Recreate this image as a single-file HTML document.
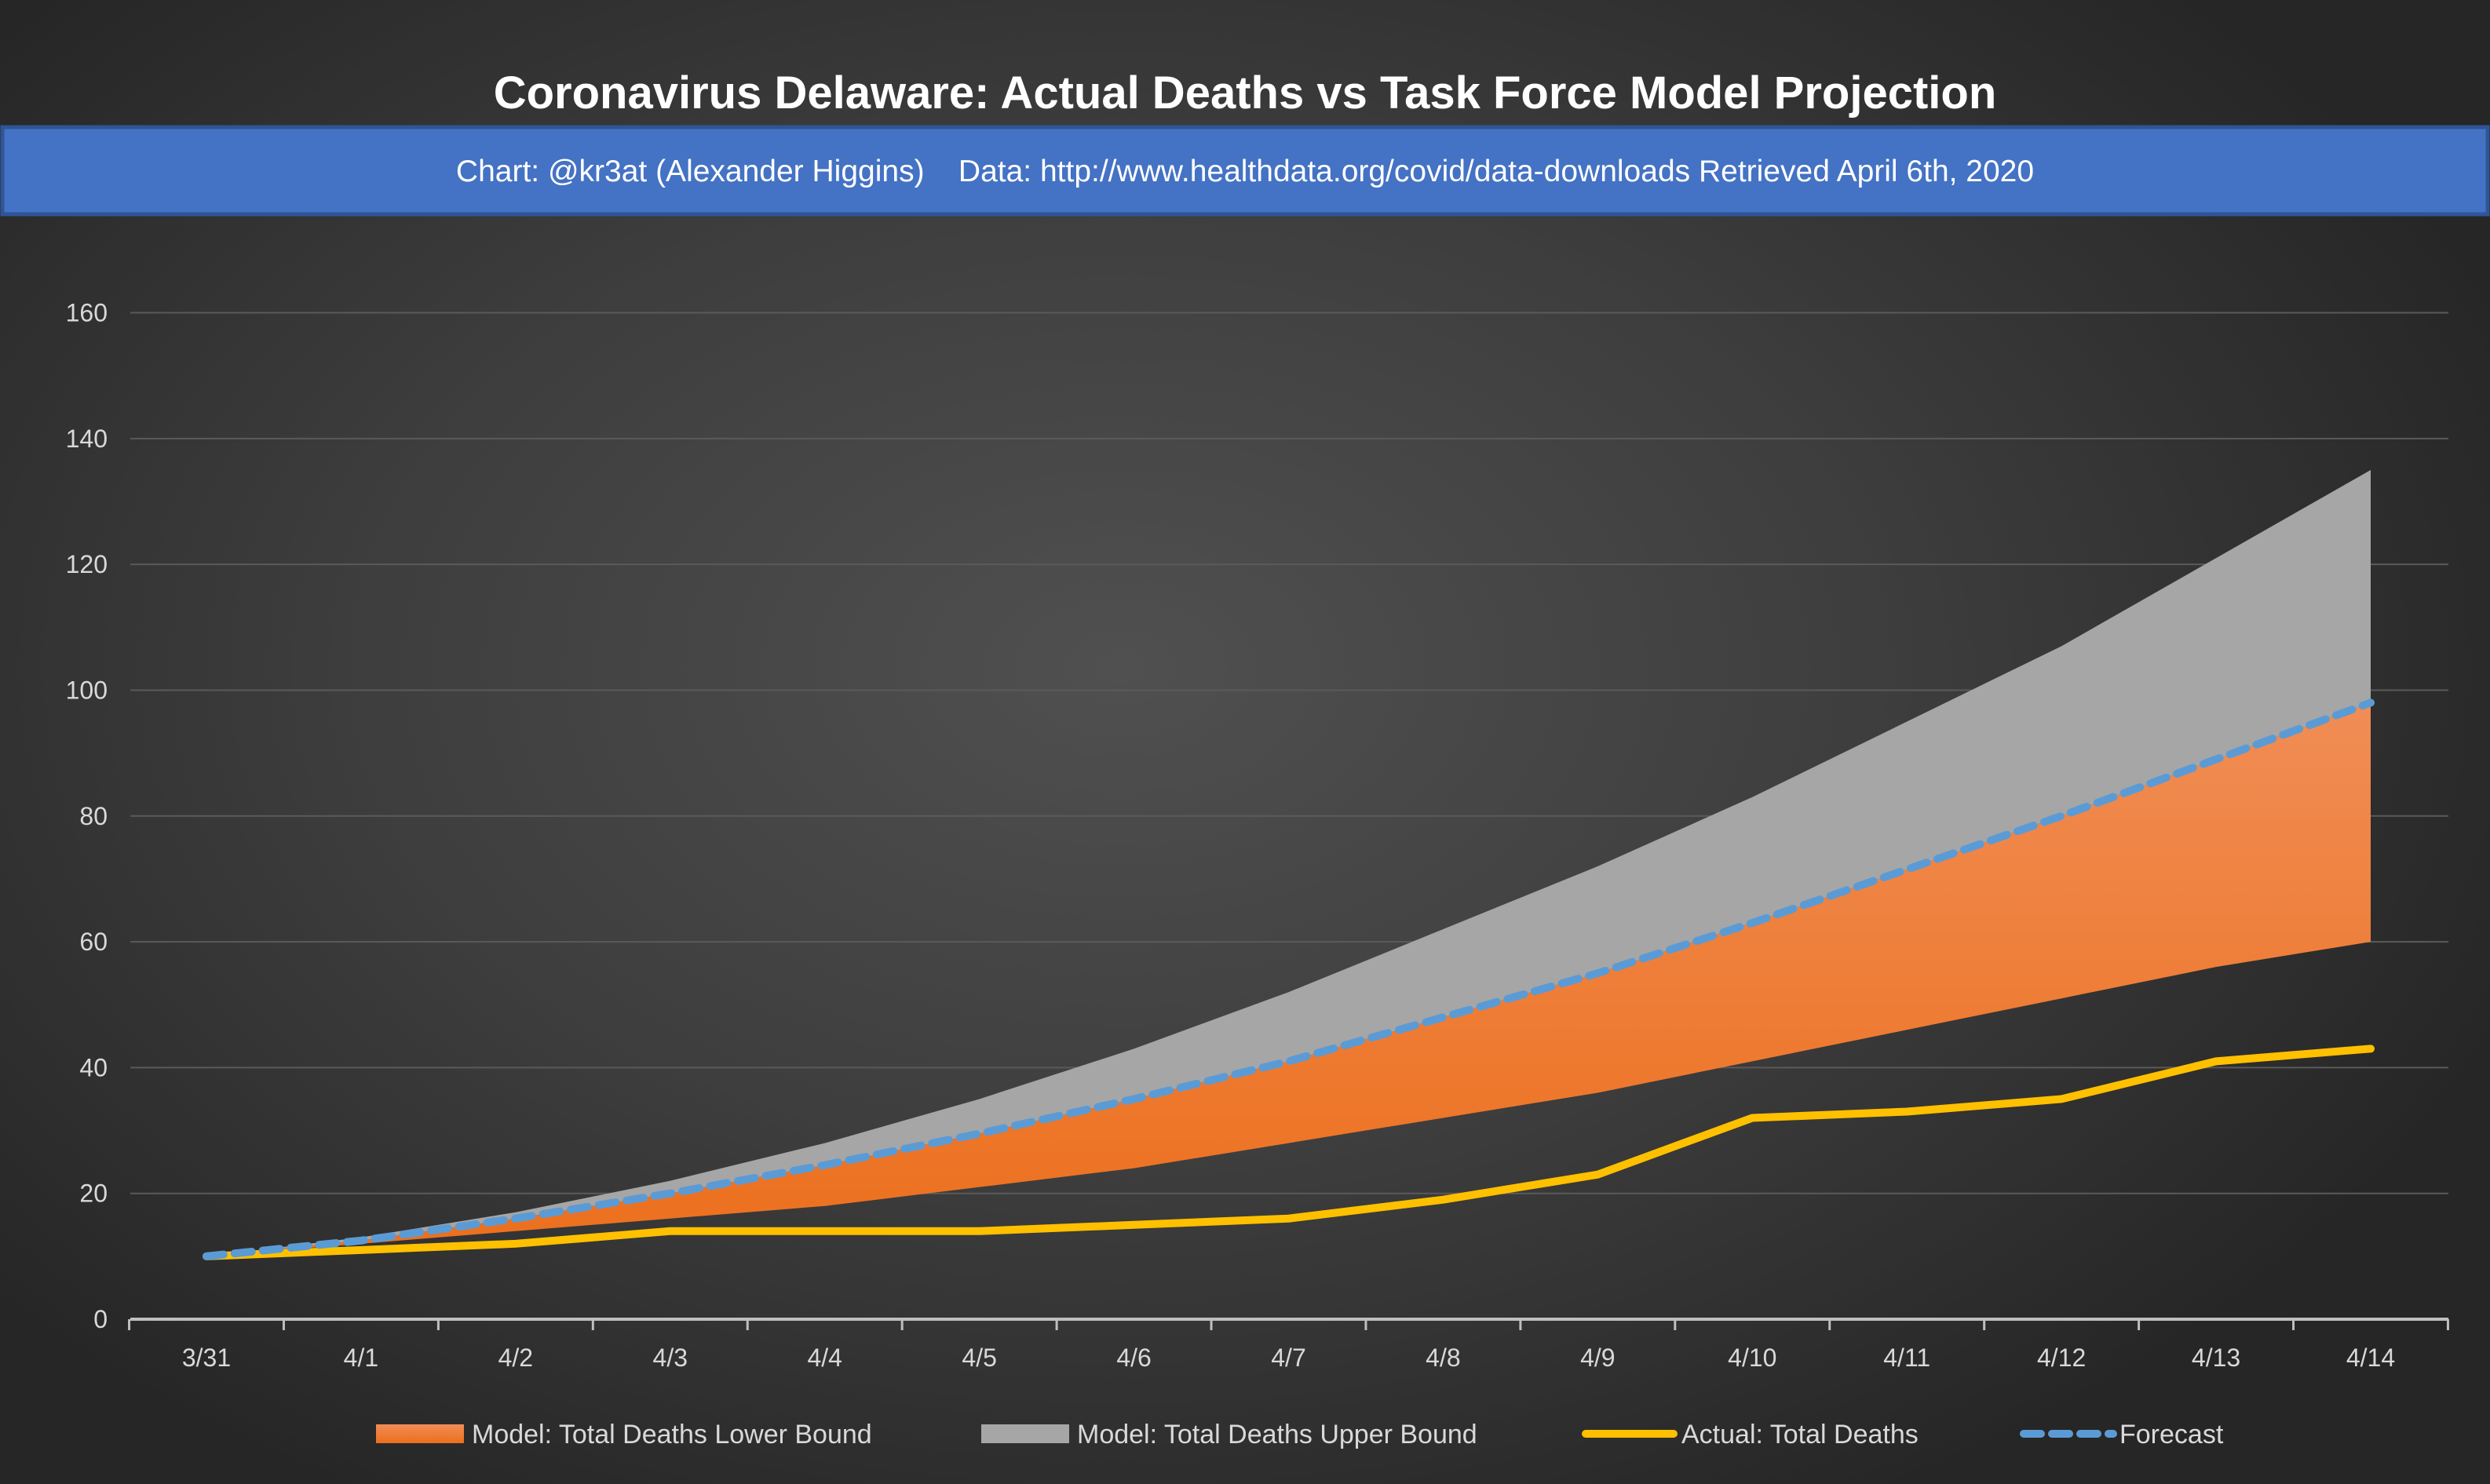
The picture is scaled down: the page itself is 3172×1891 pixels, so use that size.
<!DOCTYPE html>
<html><head><meta charset="utf-8"><style>
html,body{margin:0;padding:0;}
body{width:3172px;height:1891px;overflow:hidden;background:radial-gradient(ellipse 60% 65% at 45% 45%,#505050 0%,#3e3e3e 50%,#262626 100%);font-family:"Liberation Sans",sans-serif;}
svg{position:absolute;left:0;top:0;}
</style></head><body>
<svg width="3172" height="1891">
<text x="1586" y="138" text-anchor="middle" fill="#fff" font-size="58" font-weight="bold">Coronavirus Delaware: Actual Deaths vs Task Force Model Projection</text>
<rect x="3" y="162" width="3166" height="111" fill="#4472c4" stroke="#2f5597" stroke-width="5"/>
<text x="1586" y="231" text-anchor="middle" fill="#fff" font-size="39">Chart: @kr3at (Alexander Higgins)&#160;&#160;&#160;&#160;Data: http://www.healthdata.org/covid/data-downloads Retrieved April 6th, 2020</text>
<defs><linearGradient id="og" x1="0" y1="0" x2="0" y2="1"><stop offset="0" stop-color="#f08d55"/><stop offset="1" stop-color="#ec6f1c"/></linearGradient></defs>
<g id="grid"></g><g id="areas"></g><g id="lines"></g><g id="axes"></g>
<g>
<rect x="479" y="1815" width="112" height="24" fill="url(#og)"/>
<text x="601" y="1839" fill="#d9d9d9" font-size="34">Model: Total Deaths Lower Bound</text>
<rect x="1250" y="1815" width="112" height="24" fill="#a6a6a6"/>
<text x="1372" y="1839" fill="#d9d9d9" font-size="34">Model: Total Deaths Upper Bound</text>
<line x1="2020" y1="1827" x2="2132" y2="1827" stroke="#ffc000" stroke-width="10" stroke-linecap="round"/>
<text x="2142" y="1839" fill="#d9d9d9" font-size="34">Actual: Total Deaths</text>
<line x1="2578" y1="1827" x2="2692" y2="1827" stroke="#5b9bd5" stroke-width="10" stroke-dasharray="22,14" stroke-linecap="round"/>
<text x="2700" y="1839" fill="#d9d9d9" font-size="34">Forecast</text>
</g>
</svg>
<script>
const categories=["3/31","4/1","4/2","4/3","4/4","4/5","4/6","4/7","4/8","4/9","4/10","4/11","4/12","4/13","4/14"];
const lowerBound=[10,12,14,16,18,21,24,28,32,36,41,46,51,56,60];
const upperBound=[10,13,17,22,28,35,43,52,62,72,83,95,107,121,135];
const forecast=[10,12.5,16,20,24.5,29.5,35,41,48,55,63,71.5,80,89,98];
const actual=[10,11,12,14,14,14,15,16,19,23,32,33,35,41,43];
const yTicks=[0,20,40,60,80,100,120,140,160];
const NS="http://www.w3.org/2000/svg";
const X0=263,X1=3020,Y0=1681,Y160=398.5;
const step=(X1-X0)/(categories.length-1);
const xs=i=>X0+i*step;
const ys=v=>Y0+(Y160-Y0)*v/160;
function mk(t,a,p){const e=document.createElementNS(NS,t);for(const k in a)e.setAttribute(k,a[k]);p.appendChild(e);return e;}
const grid=document.getElementById('grid'),areas=document.getElementById('areas'),lines=document.getElementById('lines'),axes=document.getElementById('axes');
yTicks.forEach(v=>{
 if(v>0){const g=mk('line',{x1:166,x2:3119,y1:ys(v),y2:ys(v),stroke:'#5a5a5a','stroke-width':2},grid);
 
 }
 const t=mk('text',{x:137,y:ys(v)+11,'text-anchor':'end',fill:'#d9d9d9','font-size':32},axes);t.textContent=v;
 
 
});
function band(lo,hi,fill,name){
 let d='M'+lo.map((v,i)=>xs(i)+','+ys(v)).join('L');
 for(let i=hi.length-1;i>=0;i--)d+='L'+xs(i)+','+ys(hi[i]);
 const p=mk('path',{d:d+'Z',fill:fill},areas);
 
 
}
band(forecast,upperBound,'#a6a6a6','upper-bound-area');
band(lowerBound,forecast,'url(#og)','lower-bound-area');
function line(vals,attrs,name){
 const p=mk('polyline',Object.assign({points:vals.map((v,i)=>xs(i)+','+ys(v)).join(' '),fill:'none','stroke-linecap':'round','stroke-linejoin':'round'},attrs),lines);
 
 
}
line(actual,{stroke:'#ffc000','stroke-width':10},'actual-line');
line(forecast,{stroke:'#5b9bd5','stroke-width':10,'stroke-dasharray':'22,14'},'forecast-line');
const ax=mk('line',{x1:166,x2:3119,y1:Y0,y2:Y0,stroke:'#bfbfbf','stroke-width':4},axes);


for(let i=0;i<=categories.length;i++){
 const x=xs(i)-step/2;
 const tk=mk('line',{x1:x,x2:x,y1:Y0,y2:Y0+14,stroke:'#bfbfbf','stroke-width':3},axes);
 
 
}
categories.forEach((c,i)=>{
 const t=mk('text',{x:xs(i),y:1741,'text-anchor':'middle',fill:'#d9d9d9','font-size':32},axes);t.textContent=c;
 
 
});
</script>
</body></html>
